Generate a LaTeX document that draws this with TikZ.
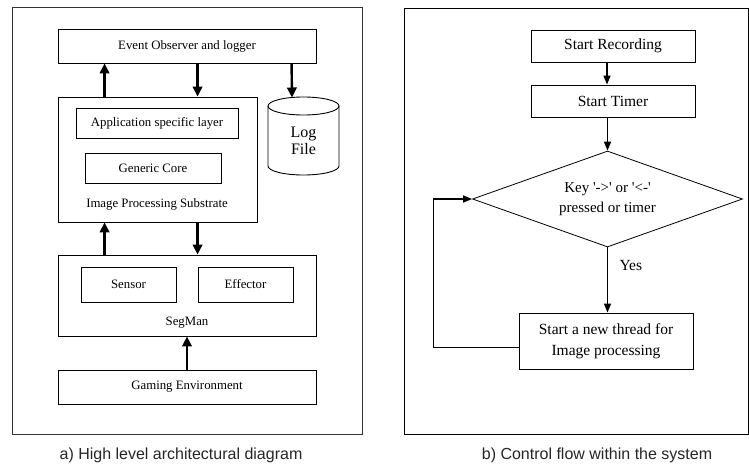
\documentclass[tikz,border=0pt]{standalone}
\usepackage{fontspec}
\setmainfont{Liberation Serif}
\newfontfamily\capfont{Liberation Sans}
\usetikzlibrary{shapes.geometric,arrows.meta,calc}
\begin{document}
\begin{tikzpicture}[x=1pt,y=-1pt,
 box/.style={draw, rectangle, inner sep=0pt, line width=0.9pt},
 lt/.style={font=\fontsize{12.8}{14}\selectfont},
 rt/.style={font=\fontsize{15.5}{21}\selectfont},
 thickarr/.style={line width=2.4pt, -{Triangle[length=10pt,width=9.5pt]}},
 arr/.style={line width=1.5pt, -{Triangle[length=9pt,width=7pt]}},
 captext/.style={font=\capfont\fontsize{16}{18}\selectfont, text=black!85}
]
\useasboundingbox (0,0) rectangle (749,466);
% ---------- left panel ----------
\draw[line width=1pt, black!80] (12,7) rectangle (362,434);
\node[box,lt,minimum width=258pt,minimum height=34pt] (ev) at (187,46) {Event Observer and logger};
\node[box,minimum width=199pt,minimum height=125pt] (ips) at (157.5,159.5) {};
\node[box,lt,minimum width=162pt,minimum height=30pt] (app) at (157,123) {Application specific layer};
\node[box,lt,minimum width=136pt,minimum height=30pt] (core) at (153,168) {Generic Core};
\node[lt] (ipsl) at (157,204) {Image Processing Substrate};
% log file cylinder
\draw[line width=0.9pt] (303.5,106) ellipse [x radius=35.5, y radius=9];
\draw[line width=0.9pt] (268,106) -- (268,166) arc[start angle=180, end angle=0, x radius=35.5, y radius=9] -- (339,106);
\node[align=center,font=\fontsize{16}{17}\selectfont] (logl) at (303.5,141) {Log\\File};
\coordinate (logtop) at (292,97.5);
\node[box,minimum width=258pt,minimum height=81pt] (seg) at (187,295.5) {};
\node[box,lt,minimum width=95pt,minimum height=35pt] (sen) at (128.5,284.5) {Sensor};
\node[box,lt,minimum width=95pt,minimum height=35pt] (eff) at (245.5,284.5) {Effector};
\node[lt] (segl) at (187,323) {SegMan};
\node[box,lt,minimum width=258pt,minimum height=34pt] (game) at (187,387) {Gaming Environment};
\draw[thickarr] ([xshift=47pt]ips.north west) -- ([xshift=47pt]ev.south west);
\draw[thickarr] ([xshift=140pt]ev.south west) -- ([xshift=140pt]ips.north west);
\draw[thickarr] ([xshift=234pt]ev.south west) -- (logtop);
\draw[thickarr] ([xshift=47pt]seg.north west) -- ([xshift=47pt]ips.south west);
\draw[thickarr] ([xshift=140pt]ips.south west) -- ([xshift=140pt]seg.north west);
\draw[thickarr] (game.north) -- (seg.south);
\node[captext] (capa) at (181,455) {a) High level architectural diagram};
% ---------- right panel ----------
\draw[line width=1pt] (404,8) rectangle (748.5,434);
\node[box,rt,minimum width=164pt,minimum height=32pt] (rec) at (613,46) {Start Recording};
\node[box,rt,minimum width=164pt,minimum height=32pt] (tim) at (613,101) {Start Timer};
\node[diamond,draw,line width=0.8pt,aspect=2.8,minimum width=270pt,minimum height=96pt,inner sep=0pt,align=center,font=\fontsize{15}{20}\selectfont] (dia) at (607.5,199) {Key \textquotesingle->\textquotesingle{} or \textquotesingle<-\textquotesingle\\pressed or timer};
\node[rt,anchor=west] (yes) at (616,265) {Yes};
\node[box,rt,align=center,minimum width=174pt,minimum height=56pt] (thr) at (606,341) {Start a new thread for\\Image processing};
\draw[arr] ([xshift=-6pt]rec.south) -- ([xshift=-6pt]tim.north);
\draw[arr] ([xshift=-5.5pt]tim.south) -- (dia.north);
\draw[arr] (dia.south) -- (dia.south |- thr.north);
\coordinate (loopc) at ($(dia.west)+(-39,0)$);
\draw[line width=0.9pt] ($(thr.west)+(0,6)$) -| (loopc);
\draw[line width=1.6pt, -{Triangle[length=9pt,width=7pt]}] (loopc) -- (dia.west);
\node[captext] (capb) at (597,455) {b) Control flow within the system};
\end{tikzpicture}
\end{document}
